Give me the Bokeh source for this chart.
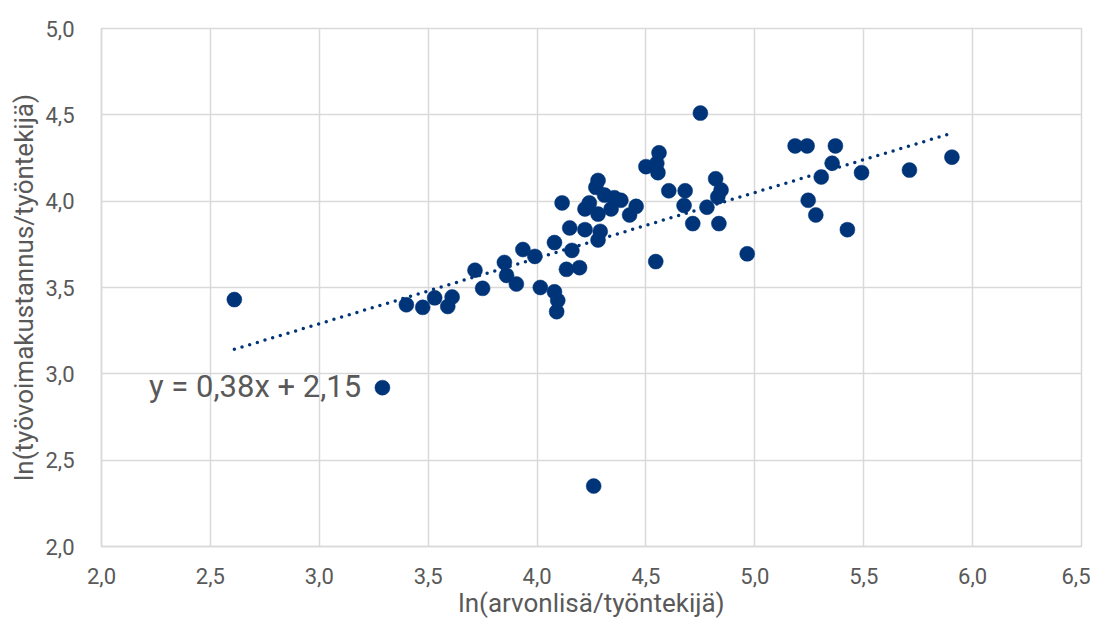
from bokeh.plotting import figure
from bokeh.models import FixedTicker, Label, Range1d
from bokeh.embed import file_html
from bokeh.resources import INLINE

# --- data ---
x_vals = [2.61, 3.29, 4.26, 4.75, 3.40, 3.475, 3.53, 3.61, 3.59, 3.715,
          3.75, 3.85, 3.86, 3.905, 3.935, 3.99, 4.015, 4.08, 4.08, 4.095,
          4.09, 4.115, 4.15, 4.16, 4.135, 4.195, 4.56, 4.50, 4.55, 4.555,
          4.28, 4.27, 4.31, 4.355, 4.385, 4.24, 4.22, 4.28, 4.34, 4.455,
          4.425, 4.22, 4.29, 4.28, 4.605, 4.68, 4.675, 4.78, 4.715, 4.835,
          4.82, 4.845, 4.83, 4.545, 4.965, 5.185, 5.24, 5.37, 5.355, 5.305,
          5.49, 5.71, 5.905, 5.245, 5.28, 5.425]
y_vals = [3.43, 2.92, 2.35, 4.51, 3.40, 3.385, 3.44, 3.445, 3.39, 3.60,
          3.495, 3.645, 3.57, 3.52, 3.72, 3.68, 3.50, 3.76, 3.475, 3.425,
          3.36, 3.99, 3.845, 3.715, 3.605, 3.615, 4.28, 4.20, 4.22, 4.165,
          4.12, 4.08, 4.035, 4.02, 4.005, 3.99, 3.955, 3.925, 3.955, 3.97,
          3.92, 3.835, 3.825, 3.775, 4.06, 4.06, 3.975, 3.965, 3.87, 3.87,
          4.13, 4.065, 4.025, 3.65, 3.695, 4.32, 4.32, 4.32, 4.22, 4.14,
          4.165, 4.18, 4.255, 4.005, 3.92, 3.835]

x_ticks = [2.0, 2.5, 3.0, 3.5, 4.0, 4.5, 5.0, 5.5, 6.0, 6.5]
x_tick_labels = ["2,0", "2,5", "3,0", "3,5", "4,0", "4,5", "5,0", "5,5", "6,0", "6,5"]
y_ticks = [2.0, 2.5, 3.0, 3.5, 4.0, 4.5, 5.0]
y_tick_labels = ["2,0", "2,5", "3,0", "3,5", "4,0", "4,5", "5,0"]

trend_slope = 0.38
trend_intercept = 2.15
equation_text = "y = 0,38x + 2,15"
equation_pos = [2.218, 2.925]

x_title = "ln(arvonlisä/työntekijä)"
y_title = "ln(työvoimakustannus/työntekijä)"

# --- style ---
NAVY = "#003479"
GRID = "#d9d9d9"
TEXT = "#595959"
FONT = "Roboto"

p = figure(width=1090, height=620,
           x_range=Range1d(x_ticks[0], x_ticks[-1]),
           y_range=Range1d(y_ticks[0], y_ticks[-1]),
           output_backend="svg", toolbar_location=None,
           min_border_left=101, min_border_right=9,
           min_border_top=28, min_border_bottom=71)

p.background_fill_color = "white"
p.border_fill_color = "white"
p.outline_line_color = GRID
p.outline_line_width = 1.5

for ax, ticks, labels in ((p.xaxis[0], x_ticks, x_tick_labels),
                          (p.yaxis[0], y_ticks, y_tick_labels)):
    ax.ticker = FixedTicker(ticks=ticks)
    ax.major_label_overrides = {t: l for t, l in zip(ticks, labels)}
    ax.major_tick_line_color = None
    ax.minor_tick_line_color = None
    ax.axis_line_color = GRID
    ax.axis_line_width = 1.5
    ax.major_label_text_font = FONT
    ax.major_label_text_font_size = "22px"
    ax.major_label_text_color = TEXT
    ax.axis_label_text_font = FONT
    ax.axis_label_text_font_size = "26px"
    ax.axis_label_text_font_style = "normal"
    ax.axis_label_text_color = TEXT

p.xaxis.axis_label = x_title
p.yaxis.axis_label = y_title
p.xaxis.major_label_standoff = 15
p.xaxis.axis_label_standoff = 1
p.yaxis.major_label_standoff = 21
p.yaxis.axis_label_standoff = 3

p.xgrid.ticker = FixedTicker(ticks=x_ticks)
p.ygrid.ticker = FixedTicker(ticks=y_ticks)
p.grid.grid_line_color = GRID
p.grid.grid_line_width = 1.5

# trend line over the data's x extent
tx = [min(x_vals), max(x_vals)]
ty = [trend_slope * v + trend_intercept for v in tx]
p.line(tx, ty, line_color=NAVY, line_width=3.5, line_dash="0 8", line_cap="round")

p.scatter(x_vals, y_vals, size=15, fill_color=NAVY, line_color=NAVY, line_width=0.5)

p.add_layout(Label(x=equation_pos[0], y=equation_pos[1], text=equation_text,
                   text_font=FONT, text_font_size="31px", text_color=TEXT,
                   text_align="left", text_baseline="middle"))

open("out.html", "w").write(file_html(p, INLINE))
